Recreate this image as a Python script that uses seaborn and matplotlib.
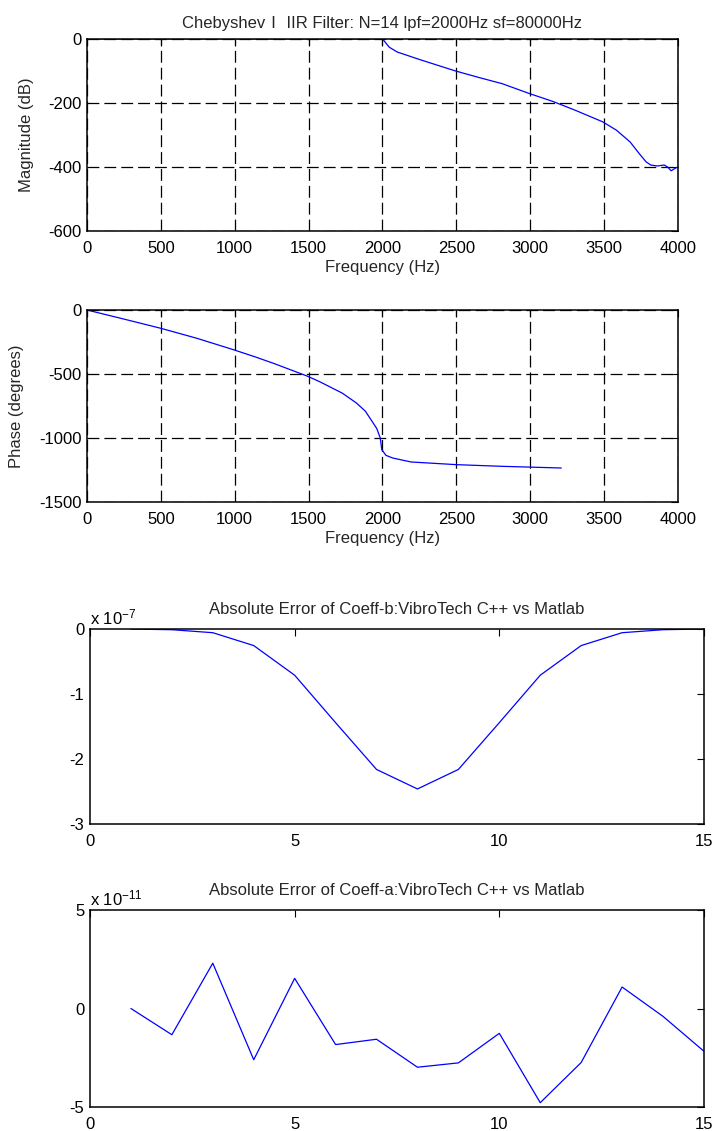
import numpy as np
import pandas as pd
import seaborn as sns
import matplotlib.pyplot as plt
from matplotlib import ticker

# Magnitude response
mag_freq = [0, 500, 1000, 1500, 2000, 2046, 2100, 2255, 2493, 2656, 2811, 2996, 3151,
            3305, 3490, 3583, 3676, 3737, 3784, 3815, 3861, 3907, 3929, 3954, 3978, 4000]
mag_db = [0, 0, 0, 0, 0, -26, -41, -65, -100, -121, -140, -171, -195,
          -223, -259, -285, -322, -358, -384, -394, -397, -394, -400, -412, -405, -400]

# Phase response
phase_freq = [0, 247, 500, 741, 991, 1143, 1266, 1488, 1575, 1729, 1822, 1884, 1961,
              1985, 1995, 2023, 2069, 2193, 2502, 2811, 3210]
phase_deg = [0, -70, -143, -220, -310, -368, -418, -515, -560, -650, -725, -790, -925,
             -1000, -1090, -1135, -1156, -1187, -1208, -1221, -1234]

# Coefficient errors
coeff_idx = list(range(1, 16))
b_err = np.array([0, -0.01, -0.056, -0.254, -0.71, -1.44, -2.16, -2.46,
                  -2.16, -1.44, -0.71, -0.254, -0.056, -0.01, 0]) * 1e-7
a_err = np.array([0.0, -1.33, 2.30, -2.60, 1.53, -1.83, -1.56, -2.98,
                  -2.76, -1.26, -4.78, -2.74, 1.09, -0.40, -2.17]) * 1e-11

sns.set_style('white')
plt.rcParams['font.family'] = ['Liberation Sans', 'Noto Sans CJK SC', 'DejaVu Sans']
plt.rcParams['mathtext.fontset'] = 'custom'
plt.rcParams['mathtext.rm'] = 'Liberation Sans'
plt.rcParams['mathtext.it'] = 'Liberation Sans'
plt.rcParams['mathtext.default'] = 'regular'
plt.rcParams['axes.unicode_minus'] = False
plt.rcParams['font.size'] = 12

blue = '#0000ff'


class MatlabSci(ticker.ScalarFormatter):
    def get_offset(self):
        if self.orderOfMagnitude == 0:
            return ''
        return 'x 10$^{%d}$' % self.orderOfMagnitude


def style_axes(ax, grid=False):
    for s in ax.spines.values():
        s.set_linewidth(1.1)
        s.set_color('black')
    ax.tick_params(direction='in', top=True, right=True, length=5, width=0.8,
                   labelsize=12, colors='black')
    ax.tick_params(axis='x', pad=7)
    ax.tick_params(axis='y', pad=4)
    if grid:
        ax.grid(True, color='black', linewidth=0.9, linestyle=(0, (9.5, 4)))
        ax.set_axisbelow(True)


fig = plt.figure(figsize=(7.16, 11.31), dpi=100)
ax1 = fig.add_axes([0.1215, 0.7958, 0.8254, 0.1698])
ax2 = fig.add_axes([0.1215, 0.5561, 0.8254, 0.1698])
ax3 = fig.add_axes([0.1257, 0.2714, 0.8575, 0.1724])
ax4 = fig.add_axes([0.1257, 0.0212, 0.8575, 0.1742])

# magnitude
sns.lineplot(x=mag_freq, y=mag_db, ax=ax1, color=blue, linewidth=0.9,
             estimator=None, sort=False)
ax1.set_xlim(0, 4000)
ax1.set_ylim(-600, 0)
ax1.set_xticks(np.arange(0, 4001, 500))
ax1.set_yticks([-600, -400, -200, 0])
style_axes(ax1, grid=True)
ax1.set_title('Chebyshev\u2160 IIR Filter: N=14 lpf=2000Hz sf=80000Hz', fontsize=12, y=1.0, pad=8)
ax1.set_xlabel('Frequency (Hz)', fontsize=12, labelpad=3)
ax1.set_ylabel('Magnitude (dB)', fontsize=12)
ax1.yaxis.set_label_coords(-0.09, 0.5)

# phase
sns.lineplot(x=phase_freq, y=phase_deg, ax=ax2, color=blue, linewidth=0.9,
             estimator=None, sort=False)
ax2.set_xlim(0, 4000)
ax2.set_ylim(-1500, 0)
ax2.set_xticks(np.arange(0, 4001, 500))
ax2.set_yticks([-1500, -1000, -500, 0])
style_axes(ax2, grid=True)
ax2.set_xlabel('Frequency (Hz)', fontsize=12, labelpad=3)
ax2.set_ylabel('Phase (degrees)', fontsize=12)
ax2.yaxis.set_label_coords(-0.107, 0.5)

# coefficient b error
sns.lineplot(x=coeff_idx, y=b_err, ax=ax3, color=blue, linewidth=0.9,
             estimator=None, sort=False)
ax3.set_xlim(0, 15)
ax3.set_ylim(-3e-7, 0)
ax3.set_xticks([0, 5, 10, 15])
ax3.set_yticks([-3e-7, -2e-7, -1e-7, 0])
ax3.yaxis.set_major_formatter(MatlabSci(useOffset=False))
style_axes(ax3)
ax3.set_title('Absolute Error of Coeff-b:VibroTech C++ vs Matlab', fontsize=12, y=1.0, pad=11)

# coefficient a error
sns.lineplot(x=coeff_idx, y=a_err, ax=ax4, color=blue, linewidth=0.9,
             estimator=None, sort=False)
ax4.set_xlim(0, 15)
ax4.set_ylim(-5e-11, 5e-11)
ax4.set_xticks([0, 5, 10, 15])
ax4.set_yticks([-5e-11, 0, 5e-11])
ax4.yaxis.set_major_formatter(MatlabSci(useOffset=False))
style_axes(ax4)
ax4.set_title('Absolute Error of Coeff-a:VibroTech C++ vs Matlab', fontsize=12, y=1.0, pad=11)

for ax in (ax3, ax4):
    ax.yaxis.get_offset_text().set_fontsize(12)

fig.savefig('out.png', dpi=100, facecolor='white')
